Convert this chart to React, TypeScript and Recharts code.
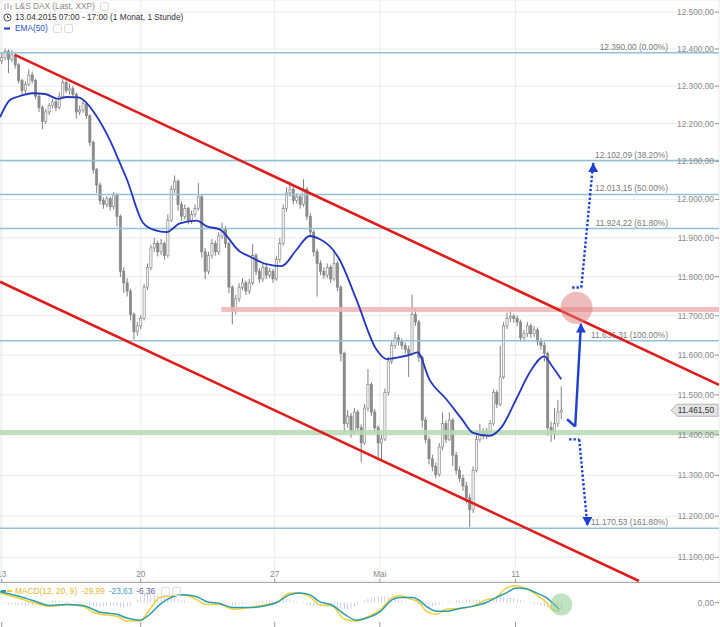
import React from "react";
import { ComposedChart, Bar, Line, XAxis, YAxis, CartesianGrid, ReferenceLine, ReferenceDot } from "recharts";

const W = 720;
const MAIN_H = 582;
const MACD_H = 44;
const SLOTS = 212; // 8 hourly slots per trading day
const FONT = "'Liberation Sans', Arial, sans-serif";

const firstOpen = 12368;
// [high, low, close] per candle, open = previous close
const candleHLC: number[][] = [
  [12391,12359,12377],[12401,12369,12394],[12399,12335,12372],[12397,12365,12384],[12389,12347,12357],[12362,12307,12315],[12320,12278,12288],[12313,12281,12305],
  [12345,12300,12330],[12339,12307,12315],[12320,12265,12273],[12279,12231,12243],[12249,12185,12206],[12239,12199,12231],[12255,12223,12248],[12265,12241,12258],
  [12263,12233,12243],[12283,12238,12273],[12320,12268,12310],[12315,12281,12288],[12307,12278,12293],[12300,12268,12278],[12283,12213,12231],[12249,12223,12236],
  [12263,12229,12253],[12258,12213,12221],[12225,12140,12150],[12155,12068,12078],[12083,12017,12038],[12045,11987,11997],[12005,11976,11987],[12009,11980,12002],
  [12007,11971,11981],[12019,11974,12012],[12017,11930,11956],[11961,11799,11814],[11824,11758,11784],[11796,11749,11763],[11769,11688,11703],[11708,11639,11659],
  [11684,11649,11674],[11701,11666,11693],[11781,11688,11773],[11834,11765,11824],[11882,11816,11874],[11900,11864,11885],[11893,11852,11864],[11897,11856,11885],
  [11890,11844,11854],[11961,11849,11946],[12037,11941,12027],[12063,12017,12048],[12053,11971,11987],[11995,11944,11956],[11987,11948,11976],[11981,11935,11946],
  [11971,11937,11961],[11987,11954,11976],[12043,11971,12007],[12012,11849,11864],[11874,11794,11814],[11864,11806,11854],[11897,11846,11885],[11893,11854,11864],
  [11915,11856,11905],[11940,11897,11925],[11931,11874,11885],[11890,11758,11773],[11778,11678,11713],[11753,11703,11743],[11783,11735,11773],[11796,11765,11784],
  [11790,11753,11763],[11794,11755,11784],[11884,11778,11854],[11860,11804,11814],[11822,11784,11794],[11834,11786,11824],[11830,11794,11804],[11822,11796,11814],
  [11820,11784,11794],[11854,11789,11844],[11900,11836,11885],[11987,11880,11976],[12032,11968,12017],[12048,12007,12027],[12035,11987,11997],[12017,11989,12007],
  [12013,11976,11987],[12053,11981,12027],[12032,11946,11956],[11964,11905,11915],[11920,11852,11864],[11872,11749,11834],[11842,11804,11814],[11824,11794,11804],
  [11834,11796,11824],[11830,11784,11794],[11870,11789,11834],[11840,11763,11773],[11778,11584,11604],[11609,11408,11428],[11462,11418,11447],[11455,11393,11408],
  [11467,11400,11457],[11463,11406,11418],[11426,11333,11380],[11477,11375,11467],[11565,11459,11526],[11532,11447,11457],[11465,11406,11418],[11424,11337,11380],
  [11400,11340,11390],[11516,11385,11506],[11596,11498,11585],[11636,11577,11624],[11659,11616,11644],[11652,11624,11634],[11642,11614,11624],[11632,11604,11614],
  [11624,11545,11604],[11754,11599,11703],[11718,11674,11684],[11689,11583,11594],[11599,11418,11437],[11445,11380,11389],[11397,11327,11341],[11351,11310,11322],
  [11332,11293,11302],[11380,11297,11370],[11456,11362,11428],[11436,11380,11389],[11456,11385,11437],[11442,11323,11350],[11358,11302,11312],[11322,11284,11293],
  [11302,11262,11274],[11284,11231,11245],[11255,11173,11216],[11322,11208,11312],[11399,11307,11389],[11428,11382,11408],[11416,11389,11398],[11418,11390,11408],
  [11437,11400,11428],[11514,11423,11506],[11512,11467,11477],[11624,11472,11545],[11684,11540,11674],[11708,11666,11693],[11713,11684,11698],[11705,11682,11693],
  [11701,11674,11684],[11690,11634,11644],[11664,11636,11654],[11684,11646,11674],[11680,11644,11654],[11674,11646,11664],[11670,11624,11634],[11644,11614,11624],
  [11634,11584,11604],[11609,11398,11418],[11433,11383,11408],[11467,11389,11428],[11487,11420,11457],[11521,11440,11461.5],
];

const macdHist: number[] = [
  -1,-1,-2,-2,-2,-3, -3,-4,-3,-3, -2,-1,-1,0, 1,2,2,2,1, 1,0,0,-1,-1,-1,-2,
  -3,-4,-4,-5,-4,-4,-3,-3,-4,-5,-5,-4,-3, 0,3,6,8,9,9,8,7,6,5, 4,4,3,3,2,2,1,1,0,-1,
  -2,-3,-3,-2,-2,-1,-1,-1, -2,-3,-3,-2,-2,-1,0, 1,1,1,2,2,2,2,3,3,4,4,3, 2,1,0,-1,-2,
  -3,-4,-4,-4,-3,-3,-3,-4,-5, -6,-7,-7,-6,-4,-2, 0,2,4,5,6,6,7,6,6,5,4, 3,2,1,0,0,-1,-2,
  -4,-5,-5,-4,-3,-2,-1, 0,1,1,2,2,2,3,3,3,3, 3,3,3,4,4,5,6,6,5,5,4,3,
  2,1,0,-1,-2,-2,-3,-4,-5,-6,-7,-7,-8,
];

// [slot, EMA(50)]
const emaPoints: number[][] = [
  [0,12217],[2.9,12263],[5,12271],[9.7,12281],[13.3,12279],[17.1,12266],[19.7,12271],[23,12270],[25,12260],[28,12226],
  [32.4,12156],[35.3,12097],[37.4,12053],[42.1,11940],[45.6,11920],[49.2,11915],[53,11938],[58,11945],[61,11930],[64.8,11922],
  [70.7,11865],[73.6,11852],[78.6,11832],[83,11827],[87.5,11870],[91.3,11905],[94.2,11897],[98.1,11870],[100.1,11844],[105.1,11741],
  [111,11614],[114,11590],[117.8,11595],[121.3,11602],[123.1,11607],[126.6,11539],[131.6,11489],[136.3,11438],[139.3,11406],[144.3,11398],
  [148.1,11422],[152.2,11489],[156.1,11555],[160.5,11597],[162.8,11572],[165.5,11539],
];

// [slot, MACD, signal]
const macdPoints: number[][] = [
  [0,33,37],[5,17,23],[9.7,0,7],[14.7,-13,-10],[19.7,-7,-7],[24.4,-13,-10],[27.4,-33,-23],[29.4,-40,-33],[34.5,-47,-40],[37.4,-63,-53],
  [41.2,-63,-60],[44.2,-23,-40],[47.1,17,-7],[50.9,23,20],[53.9,27,27],[58,10,20],[61,-7,3],[64.8,-7,-3],[68.6,-23,-17],[73.6,-17,-17],
  [78.6,-7,-10],[81.6,0,0],[85.4,33,27],[88.3,33,33],[91.3,20,27],[94.2,-7,3],[98.1,-13,-10],[101.6,-57,-40],[105.1,-63,-60],[108.1,-50,-53],
  [111.9,-27,-33],[115.7,17,10],[117.8,23,17],[121.6,10,17],[123.7,0,7],[125.7,-30,-13],[128.7,-40,-30],[131.6,-23,-30],[135.5,-20,-20],[139.3,-13,-13],
  [143.4,10,0],[146.3,17,17],[149.3,50,33],[152.2,57,50],[155.2,47,47],[158.1,27,33],[161.1,0,17],[162.8,-23,0],[164.9,-30,-23.6],
];

const priceTicks = [11100, 11200, 11300, 11400, 11500, 11600, 11700, 11800, 11900, 12000, 12100, 12200, 12300, 12400, 12500];
const dayTicks = [0.5, 41.5, 81, 112, 152];
const dayLabels = ["13", "20", "27", "Mai", "11"];

const fibLevels = [
  { value: 12390, pct: "0.00%" },
  { value: 12102.09, pct: "38.20%" },
  { value: 12013.15, pct: "50.00%" },
  { value: 11924.22, pct: "61.80%" },
  { value: 11636.31, pct: "100.00%" },
  { value: 11170.53, pct: "161.80%" },
];

const channelUpper = [[4.4, 12384], [212, 11525]];
const channelLower = [[0, 11787], [188.4, 11043]];
const resistance = { from: 65.3, to: 212, value: 11716 };
const support = 11406;
const lastPrice = 11461.5;
const targetCircle = { x: 170, y: 11720 };
const macdCircle = { x: 165.5, y: -6.7 };
const arrowSolid = [[167.2, 11439], [169.6, 11421], [171.3, 11680]];
const arrowDown = [[167.8, 11389], [170.8, 11389], [173.2, 11176]];
const arrowUp = [[168.7, 11772], [171.4, 11772], [174.9, 12096]];

const fmt = (v: number) => {
  const [i, d] = v.toFixed(2).split(".");
  return i.replace(/\B(?=(\d{3})+(?!\d))/g, ".") + "," + d;
};

const candles = candleHLC.map((r, i) => ({
  x: i + 0.5,
  o: i === 0 ? firstOpen : candleHLC[i - 1][2],
  h: r[0],
  l: r[1],
  c: r[2],
  hist: macdHist[i] ?? 0,
}));
const emaData = emaPoints.map(([x, v]) => ({ x, v }));
const macdData = macdPoints.map(([x, m, s]) => ({ x, m, s }));

const Candle = (props: any) => {
  const { x, y, width, height, payload } = props;
  if (height == null || isNaN(height)) return null;
  const { o, c } = payload;
  const h = Math.max(payload.h, o, c);
  const l = Math.min(payload.l, o, c);
  const lh = Math.log(h);
  const span = lh - Math.log(l) || 1;
  const py = (v: number) => y + ((lh - Math.log(v)) / span) * height;
  const cx = x + width / 2;
  const top = py(Math.max(o, c));
  const bot = py(Math.min(o, c));
  const up = c >= o;
  return (
    <g>
      <line x1={cx} x2={cx} y1={y} y2={y + height} stroke="#808080" strokeWidth={1} />
      <rect x={cx - 1.1} y={top} width={2.2} height={Math.max(bot - top, 0.8)} fill={up ? "#f4f4f4" : "#8c8c8c"} stroke="#808080" strokeWidth={0.6} />
    </g>
  );
};

const PriceTick = (p: any) => (
  <g>
    <text x={W - 6} y={p.y + 3} textAnchor="end" fontSize={8.3} fill="#8a8a8a">{fmt(p.payload.value)}</text>
    <line x1={W - 5} x2={W - 1} y1={p.y} y2={p.y} stroke="#999" />
  </g>
);

const DayTick = (p: any) => (
  <g>
    <text x={p.x} y={MAIN_H - 5} textAnchor="middle" fontSize={8.3} fill="#8a8a8a">
      {dayLabels[dayTicks.indexOf(p.payload.value)]}
    </text>
    <line x1={p.x} x2={p.x} y1={MAIN_H - 3} y2={MAIN_H} stroke="#999" />
  </g>
);

const MacdDayTick = (p: any) => (
  <line x1={p.x} x2={p.x} y1={MACD_H - 5} y2={MACD_H} stroke="#999" />
);

const MacdTick = (p: any) => (
  <g>
    <text x={W - 6} y={p.y + 3} textAnchor="end" fontSize={8.3} fill="#8a8a8a">{fmt(p.payload.value)}</text>
    <line x1={W - 5} x2={W - 1} y1={p.y} y2={p.y} stroke="#999" />
  </g>
);

const fibLabel = (text: string) => (p: any) => (
  <text x={668} y={p.viewBox.y - 3} textAnchor="end" fontSize={8.3} fill="#7a7a7a">{text}</text>
);

const priceTag = (p: any) => {
  const y = p.viewBox.y;
  return (
    <g>
      <polygon points={`${W - 49},${y} ${W - 43},${y - 6} ${W - 2},${y - 6} ${W - 2},${y + 6} ${W - 43},${y + 6}`} fill="#e4e4e4" stroke="#b4b4b4" />
      <text x={W - 6} y={y + 3} textAnchor="end" fontSize={8.3} fill="#333">{fmt(lastPrice)}</text>
    </g>
  );
};

const headUp = (p: any) => (
  <polygon points={`${p.cx},${p.cy} ${p.cx - 5},${p.cy + 9} ${p.cx + 5},${p.cy + 9}`} fill="#1f3fd0" />
);
const headDown = (p: any) => (
  <polygon points={`${p.cx},${p.cy} ${p.cx - 5},${p.cy - 9} ${p.cx + 5},${p.cy - 9}`} fill="#1f3fd0" />
);

const seg = (a: number[], b: number[]) => [{ x: a[0], y: a[1] }, { x: b[0], y: b[1] }] as any;

export default function App() {
  return (
    <div style={{ position: "absolute", left: 0, top: 0, width: W, height: 627, background: "#fff", fontFamily: FONT, overflow: "hidden" }}>
      <ComposedChart width={W} height={MAIN_H} data={candles} margin={{ top: 0, right: 0, bottom: 0, left: 0 }}>
        <CartesianGrid stroke="#ebebeb" strokeWidth={1} />
        <XAxis type="number" dataKey="x" domain={[0, SLOTS]} allowDataOverflow ticks={dayTicks} height={1}
          axisLine={false} tickLine={false} tick={<DayTick />} interval={0} />
        <YAxis orientation="right" width={1} scale="log" type="number" domain={[11043, 12533]} allowDataOverflow
          ticks={priceTicks} axisLine={false} tickLine={false} tick={<PriceTick />} interval={0} />

        {fibLevels.map((f) => (
          <ReferenceLine key={f.value} y={f.value} stroke="#8fc3d8" strokeWidth={1.5}
            label={fibLabel(`${fmt(f.value)} (${f.pct})`)} />
        ))}
        <ReferenceLine y={support} stroke="#b3dbb3" strokeWidth={5} strokeOpacity={0.85} />
        <ReferenceLine segment={seg([resistance.from, resistance.value], [resistance.to, resistance.value])}
          stroke="#eeb4b4" strokeWidth={5} strokeOpacity={0.85} ifOverflow="visible" />

        <Bar dataKey={(d: any) => [d.l, d.h]} barSize={3} shape={<Candle />} isAnimationActive={false} />
        <Line data={emaData} dataKey="v" type="monotone" stroke="#2236c0" strokeWidth={1.8} dot={false} activeDot={false} isAnimationActive={false} />

        <ReferenceLine segment={seg(channelUpper[0], channelUpper[1])} stroke="#e01b1b" strokeWidth={2.6} ifOverflow="visible" />
        <ReferenceLine segment={seg(channelLower[0], channelLower[1])} stroke="#e01b1b" strokeWidth={2.6} ifOverflow="visible" />
        <ReferenceLine y={lastPrice} stroke="none" label={priceTag} />

        <ReferenceDot x={targetCircle.x} y={targetCircle.y} r={16} fill="#e07a7a" fillOpacity={0.5} stroke="none" />

        <ReferenceLine segment={seg(arrowSolid[0], arrowSolid[1])} stroke="#1f3fd0" strokeWidth={2.4} ifOverflow="visible" />
        <ReferenceLine segment={seg(arrowSolid[1], arrowSolid[2])} stroke="#1f3fd0" strokeWidth={2.4} ifOverflow="visible" />
        <ReferenceDot x={arrowSolid[2][0]} y={arrowSolid[2][1]} r={5} shape={headUp} />

        <ReferenceLine segment={seg(arrowDown[0], arrowDown[1])} stroke="#1f3fd0" strokeWidth={2.4} strokeDasharray="2.4 2" ifOverflow="visible" />
        <ReferenceLine segment={seg(arrowDown[1], arrowDown[2])} stroke="#1f3fd0" strokeWidth={2.4} strokeDasharray="2.4 2" ifOverflow="visible" />
        <ReferenceDot x={arrowDown[2][0]} y={arrowDown[2][1]} r={5} shape={headDown} />

        <ReferenceLine segment={seg(arrowUp[0], arrowUp[1])} stroke="#1f3fd0" strokeWidth={2.4} strokeDasharray="2.4 2" ifOverflow="visible" />
        <ReferenceLine segment={seg(arrowUp[1], arrowUp[2])} stroke="#1f3fd0" strokeWidth={2.4} strokeDasharray="2.4 2" ifOverflow="visible" />
        <ReferenceDot x={arrowUp[2][0]} y={arrowUp[2][1]} r={5} shape={headUp} />
      </ComposedChart>

      <div style={{ position: "absolute", left: 0, top: MAIN_H, width: W, height: 1, background: "#a8a8a8" }} />

      <div style={{ position: "absolute", left: 0, top: MAIN_H + 1 }}>
        <ComposedChart width={W} height={MACD_H} data={candles} margin={{ top: 0, right: 0, bottom: 0, left: 0 }}>
          <XAxis type="number" dataKey="x" domain={[0, SLOTS]} allowDataOverflow ticks={dayTicks} height={1}
            axisLine={false} tickLine={false} tick={<MacdDayTick />} interval={0} />
          <YAxis yAxisId="m" orientation="right" width={1} type="number" domain={[-80, 66.7]} allowDataOverflow
            ticks={[0]} axisLine={false} tickLine={false} tick={<MacdTick />} interval={0} />
          <YAxis yAxisId="h" hide type="number" domain={[-24, 20]} allowDataOverflow />
          <Bar yAxisId="h" dataKey="hist" barSize={2} fill="#6b5fd2" isAnimationActive={false} />
          <Line yAxisId="m" data={macdData} dataKey="m" type="monotone" stroke="#f3d033" strokeWidth={1.5} dot={false} activeDot={false} isAnimationActive={false} />
          <Line yAxisId="m" data={macdData} dataKey="s" type="monotone" stroke="#2a9db0" strokeWidth={1.5} dot={false} activeDot={false} isAnimationActive={false} />
          <ReferenceDot yAxisId="m" x={macdCircle.x} y={macdCircle.y} r={11} fill="#8ccc8c" fillOpacity={0.55} stroke="none" />
        </ComposedChart>
        <div style={{ position: "absolute", left: 0, top: 3, fontSize: 8.3, whiteSpace: "nowrap", display: "flex", alignItems: "center" }}>
          <svg width={14} height={8}>
            <line x1={1} x2={6} y1={4} y2={4} stroke="#2a9db0" strokeWidth={2} />
            <line x1={7} x2={12} y1={4} y2={4} stroke="#f3c933" strokeWidth={2} />
          </svg>
          <span style={{ color: "#e3b930", marginLeft: 1 }}>MACD(12, 20, 9)</span>
          <span style={{ color: "#e3b930", marginLeft: 4 }}>-29,99</span>
          <span style={{ color: "#4d9cc4", marginLeft: 4 }}>-23,63</span>
          <span style={{ color: "#5c5ca8", marginLeft: 4 }}>-6,36</span>
          <span style={{ display: "inline-block", width: 7, height: 7, border: "1px solid #ddd", borderRadius: 2, marginLeft: 6 }} />
          <span style={{ display: "inline-block", width: 7, height: 7, border: "1px solid #ddd", borderRadius: 2, marginLeft: 2 }} />
        </div>
      </div>

      <div style={{ position: "absolute", left: 3, top: 1, fontSize: 8.3, lineHeight: "11px", whiteSpace: "nowrap" }}>
        <div style={{ display: "flex", alignItems: "center", color: "#8a8a8a" }}>
          <svg width={12} height={9}>
            <line x1={2} x2={2} y1={2} y2={8} stroke="#999" />
            <line x1={5} x2={5} y1={1} y2={7} stroke="#999" />
            <line x1={8} x2={8} y1={3} y2={8} stroke="#999" />
          </svg>
          <span>L&amp;S DAX (Last, XXP)</span>
          <span style={{ display: "inline-block", width: 7, height: 7, border: "1px solid #ddd", borderRadius: 2, marginLeft: 5 }} />
        </div>
        <div style={{ display: "flex", alignItems: "center", color: "#333" }}>
          <svg width={12} height={9}>
            <circle cx={4.5} cy={4.5} r={3.6} fill="none" stroke="#444" strokeWidth={1} />
            <line x1={4.5} x2={4.5} y1={2.5} y2={4.7} stroke="#444" />
            <line x1={4.5} x2={6.2} y1={4.7} y2={4.7} stroke="#444" />
          </svg>
          <span>13.04.2015 07:00 - 17:00 (1 Monat, 1 Stunde)</span>
        </div>
        <div style={{ display: "flex", alignItems: "center", color: "#2f4fc4" }}>
          <svg width={12} height={9}>
            <line x1={1} x2={7} y1={4.5} y2={4.5} stroke="#2236c0" strokeWidth={2} />
          </svg>
          <span>EMA(50)</span>
          <span style={{ display: "inline-block", width: 7, height: 7, border: "1px solid #ddd", borderRadius: 2, marginLeft: 5 }} />
          <span style={{ display: "inline-block", width: 7, height: 7, border: "1px solid #ddd", borderRadius: 2, marginLeft: 2 }} />
        </div>
      </div>
    </div>
  );
}
